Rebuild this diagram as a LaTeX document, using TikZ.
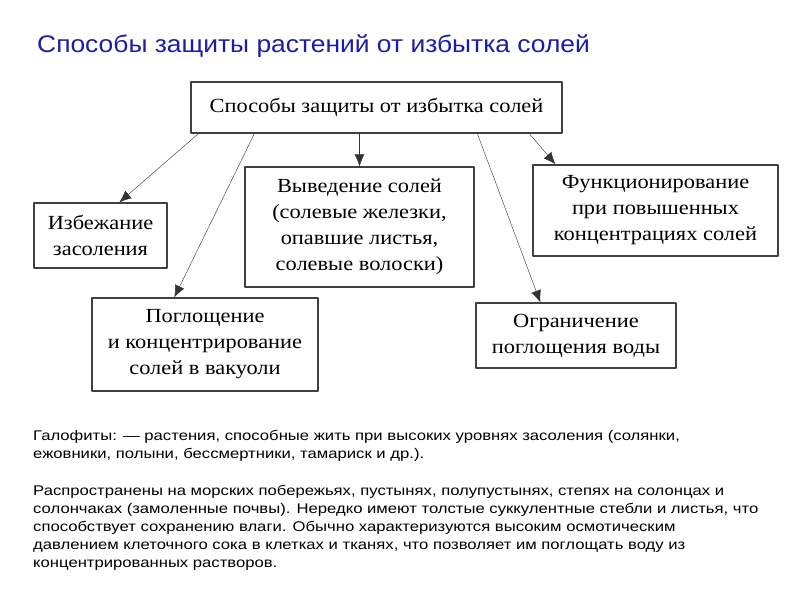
\documentclass[tikz,border=0pt]{standalone}
\usepackage{fontspec}
\setmainfont{Liberation Serif}
\setsansfont{Liberation Sans}
\newfontfamily\boxfont[FakeStretch=1.12]{Liberation Serif}
\newfontfamily\titlefont[FakeStretch=1.1]{Liberation Sans}
\newfontfamily\notefont[FakeStretch=1.19]{Liberation Sans}
\usetikzlibrary{arrows.meta}
\definecolor{titleblue}{RGB}{28,28,165}
\tikzset{
  box/.style={draw=black!75,line width=1.3pt,align=center,inner sep=0pt,
    font=\boxfont\fontsize{20}{26}\selectfont},
}
\begin{document}
\begin{tikzpicture}[x=1pt,y=-1pt,>={Latex[length=12pt,width=10pt]},line join=round,line cap=round]
	\useasboundingbox (0,0) rectangle (800,600);
	% title
	\node[anchor=base west,inner sep=0pt,text=titleblue,font=\titlefont\fontsize{24}{28}\selectfont] (title) at (37,52) {Способы защиты растений от избытка солей};
	% boxes
	\node[box,minimum width=371pt,minimum height=51pt] (top) at (376.5,107.5) {Способы защиты от избытка солей};
	\node[box,minimum width=133pt,minimum height=65pt] (izb) at (100.5,235.5) {Избежание\\засоления};
	\node[box,minimum width=229pt,minimum height=120pt] (vyv) at (359.5,227) {Выведение солей\\(солевые железки,\\опавшие листья,\\солевые волоски)};
	\node[box,minimum width=245pt,minimum height=91pt] (func) at (655.5,210.5) {Функционирование\\при повышенных\\концентрациях солей};
	\node[box,minimum width=226pt,minimum height=93pt] (pogl) at (205,344.5) {Поглощение\\и концентрирование\\солей в вакуоли};
	\node[box,minimum width=200pt,minimum height=65pt] (ogr) at (576,335.5) {Ограничение\\поглощения воды};
	% arrows
	\draw[->,draw=black!80] ([xshift=8pt]top.south west) -- ([xshift=86pt]izb.north west);
	\draw[->,draw=black!80] ([xshift=64pt]top.south west) -- ([xshift=83pt]pogl.north west);
	\draw[->,draw=black!80] (vyv.north |- top.south) -- (vyv.north);
	\draw[->,draw=black!80] ([xshift=287pt]top.south west) -- ([xshift=65pt]ogr.north west);
	\draw[->,draw=black!80] ([xshift=339pt]top.south west) -- ([xshift=23pt]func.north west);
	% text below
	\node[anchor=north west,inner sep=0pt,align=left,font=\notefont\fontsize{14}{18.2}\selectfont] (note) at (33,430) {Галофиты: — растения, способные жить при высоких уровнях засоления (солянки,\\ежовники, полыни, бессмертники, тамариск и др.).\\[18.2pt]Распространены на морских побережьях, пустынях, полупустынях, степях на солонцах и\\солончаках (замоленные почвы). Нередко имеют толстые суккулентные стебли и листья, что\\способствует сохранению влаги. Обычно характеризуются высоким осмотическим\\давлением клеточного сока в клетках и тканях, что позволяет им поглощать воду из\\концентрированных растворов.};
\end{tikzpicture}
\end{document}
